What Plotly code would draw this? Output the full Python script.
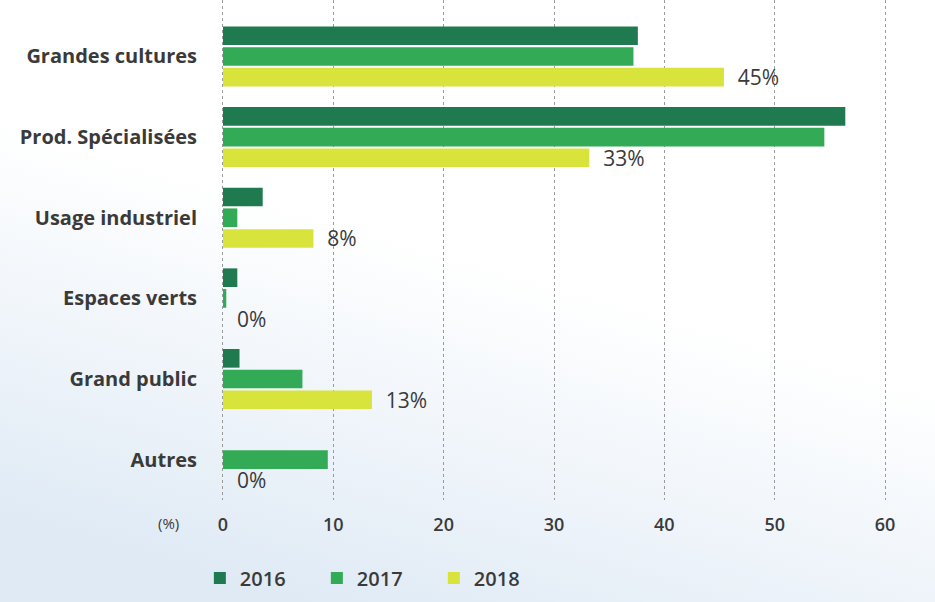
import base64
import plotly.graph_objects as go

categories = ["Grandes cultures", "Prod. Spécialisées", "Usage industriel",
              "Espaces verts", "Grand public", "Autres"]
v2016 = [37.6, 56.4, 3.6, 1.3, 1.5, 0]
v2017 = [37.2, 54.5, 1.3, 0.3, 7.2, 9.5]
v2018 = [45.4, 33.2, 8.2, 0, 13.5, 0]
labels2018 = ["45%", "33%", "8%", "0%", "13%", "0%"]
series_names = ["2016", "2017", "2018"]
tick_vals = [0, 10, 20, 30, 40, 50, 60]

colors = ["#1f7a50", "#33aa55", "#d8e43c"]
FONT = "Open Sans"
TXT = "#3a3a3a"

fig = go.Figure()
for name, vals, col in zip(series_names, [v2016, v2017, v2018], colors):
    kw = {}
    if name == "2018":
        kw = dict(text=labels2018, textposition="outside",
                  texttemplate="  %{text}",
                  textfont=dict(family=FONT, size=21, color=TXT),
                  constraintext="none", cliponaxis=False)
    fig.add_trace(go.Bar(y=categories, x=vals, name=name, orientation="h",
                         marker=dict(color=col, line=dict(width=0)), **kw))

svg = ('<svg xmlns="http://www.w3.org/2000/svg" width="935" height="602">'
       '<defs><linearGradient id="g" x1="0.75" y1="0" x2="0.3" y2="1">'
       '<stop offset="0" stop-color="#ffffff"/>'
       '<stop offset="0.45" stop-color="#ffffff"/>'
       '<stop offset="1" stop-color="#dfeaf5"/></linearGradient></defs>'
       '<rect width="935" height="602" fill="url(#g)"/></svg>')
src = "data:image/svg+xml;base64," + base64.b64encode(svg.encode()).decode()

L, R, T, B = 218, 45, 0, 102
pw, ph = 935 - L - R, 602 - T - B

fig.update_layout(
    width=935, height=602,
    margin=dict(l=L, r=R, t=T, b=B),
    paper_bgcolor="white", plot_bgcolor="rgba(0,0,0,0)",
    barmode="group", bargap=0.23, bargroupgap=0.1,
    font=dict(family=FONT, color=TXT),
    images=[dict(source=src, xref="paper", yref="paper",
                 x=-L / pw, y=1 + T / ph, sizex=935 / pw, sizey=602 / ph,
                 xanchor="left", yanchor="top", sizing="stretch", layer="below")],
    xaxis=dict(range=[-0.45, 60.45], tickvals=tick_vals, showgrid=True,
               gridcolor="#9a9a9a", griddash="dot", gridwidth=1,
               zeroline=False, showline=False,
               tickfont=dict(family=FONT, size=18, color=TXT, weight=600),
               ticks="", ticklabelstandoff=12),
    yaxis=dict(categoryorder="array", categoryarray=categories,
               range=[5.5, -0.7], showgrid=False, zeroline=False,
               tickfont=dict(family=FONT, size=20, color=TXT, weight=700),
               ticks="", ticklabelstandoff=20),
    legend=dict(orientation="h", x=-0.027, xanchor="left",
                y=-0.156, yanchor="middle",
                font=dict(family=FONT, size=20, color=TXT, weight=600),
                entrywidth=72, entrywidthmode="pixels",
                bgcolor="rgba(0,0,0,0)", traceorder="normal"),
    annotations=[dict(text="(%)", xref="paper", yref="paper",
                      x=(168 - L) / pw, y=-23 / ph, showarrow=False,
                      font=dict(family=FONT, size=15, color=TXT),
                      xanchor="center", yanchor="middle")],
)

fig.write_html("out.html")
